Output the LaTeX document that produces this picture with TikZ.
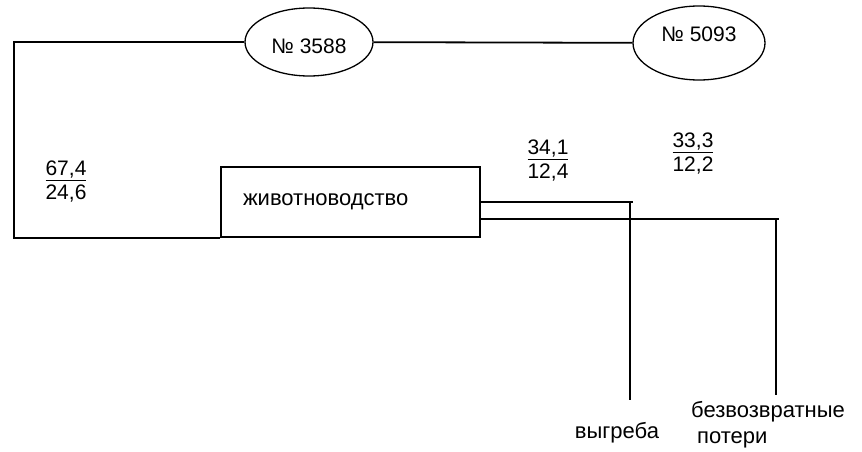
\documentclass[tikz,border=0pt]{standalone}
\usepackage{fontspec}
\setmainfont{Liberation Sans}
\usepackage{tikz}
\usetikzlibrary{positioning,shapes.geometric,calc}
\newcommand{\drob}[2]{\underline{#1}\\#2}

\begin{document}
\begin{tikzpicture}[
  x=1pt,y=-1pt,
  font=\fontsize{21}{24}\selectfont,
  oval/.style={draw,ellipse,line width=1.3pt,minimum width=128,minimum height=68,inner sep=0pt},
  box/.style={draw,line width=1.8pt,minimum width=259,minimum height=70,text width=215,inner xsep=22,align=left,font=\fontsize{22}{24}\selectfont},
  num/.style={align=center,inner sep=0pt},
  lbl/.style={align=left,inner sep=0pt,font=\fontsize{22}{24}\selectfont},
  ln/.style={line width=1.8pt},
]
\useasboundingbox (0,0) rectangle (862,452);
% sources
\node[oval,text height=24,text depth=0] (n3588) at (309,42) {№ 3588};
\node[oval,text height=14,text depth=16,minimum width=132,minimum height=74] (n5093) at (699,43) {№ 5093};
\draw[ln] (n3588) -- (n5093);
% branch
\node[box] (zhiv) at (350.5,202) {животноводство};
\coordinate (lt) at (14,43);
\draw[ln] (n3588.west) -- (n3588.west -| lt) |- (zhiv.south west);
\node[num] (f1) at (66,182) {\drob{67,4}{24,6}};
% outputs
\coordinate (vygr) at (630,400);
\coordinate (poter) at (776,395);
\draw[ln] (zhiv.east) -- ($(zhiv.east -| vygr)+(3,0)$);
\draw[ln] ([yshift=-17pt]zhiv.east) -- ($([yshift=-17pt]zhiv.east -| poter)+(3,0)$);
\draw[ln] (zhiv.east -| vygr) -- (vygr);
\draw[ln] ([yshift=-17pt]zhiv.east -| poter) -- (poter);
\node[num] (f2) at (548,161) {\drob{34,1}{12,4}};
\node[num] (f3) at (693,154) {\drob{33,3}{12,2}};
\node[lbl,anchor=base] (l1) at (617,438) {выгреба};
\node[lbl,anchor=base west] (l2) at (691,417) {безвозвратные};
\node[lbl,anchor=base west] (l3) at (697,443) {потери};
\end{tikzpicture}
\end{document}
